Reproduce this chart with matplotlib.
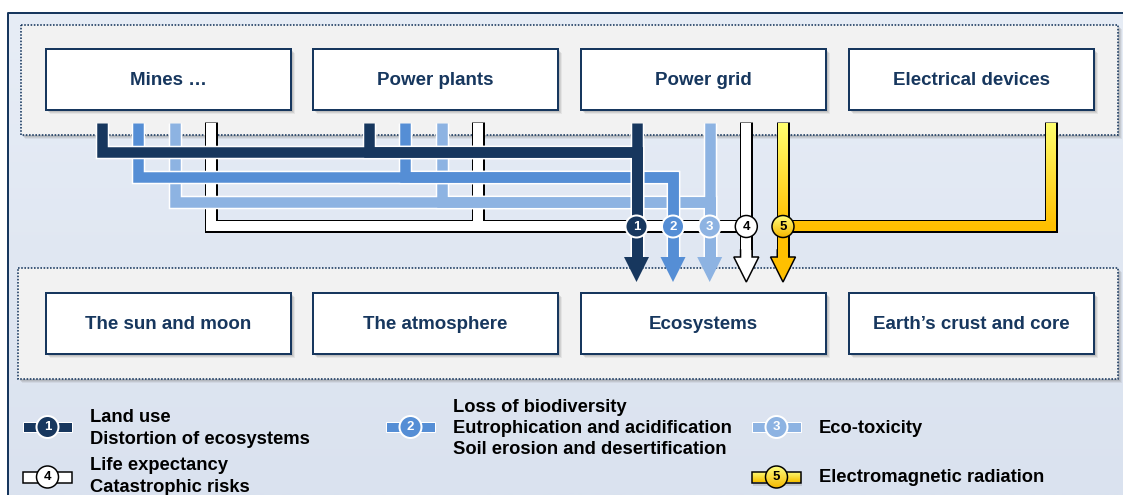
import numpy as np
import matplotlib.pyplot as plt
from matplotlib.patches import Rectangle, Circle, Polygon
from matplotlib.colors import LinearSegmentedColormap

plt.rcParams['font.family'] = ['Liberation Sans', 'DejaVu Sans']

PX = 0.72  # one pixel in points (dpi 100)

# ---- content ----
sources = ['Mines …', 'Power plants', 'Power grid', 'Electrical devices']
sinks = ['The sun and moon', 'The atmosphere', 'Ecosystems', 'Earth’s crust and core']
impact_ids = ['1', '2', '3', '4', '5']
impact_labels = [
    ['Land use', 'Distortion of ecosystems'],
    ['Loss of biodiversity', 'Eutrophication and acidification', 'Soil erosion and desertification'],
    ['Eco-toxicity'],
    ['Life expectancy', 'Catastrophic risks'],
    ['Electromagnetic radiation'],
]
impact_colors = ['#17375e', '#558ed5', '#8db3e2', '#ffffff', '#ffc000']
impact_sources = [[0, 1, 2], [0, 1], [0, 1, 2], [0, 1, 2], [2, 3]]

# ---- layout (pixels, y down) ----
W, H = 1123, 495
navy = '#17375e'
box_x = [46, 313, 581, 849]
box_w = 245
top_box = (49, 110)
bot_box = (293, 354)
stub_top = 123
lane_off = [55.5, 92, 128.7, 165.3, 202]
level_y = [152, 177, 201.5, 226, 226]
drop_box = 2
head_y0, head_tip, head_hw = 257, 282, 12.5
circle_y, circle_r = 226.5, 11
yel_top, yel_bot = '#ffff70', '#ffc000'

# legend grid: (icon x, row y, text shift)
leg_pos = [(23, 427, 1.5), (386, 427, 1.5), (752, 427, 1.5), (23, 477, -0.5), (752, 477, 0)]
leg_line = 21.5

fig = plt.figure(figsize=(W / 100, H / 100), dpi=100)
ax = fig.add_axes([0, 0, 1, 1])
ax.axis('off')


def gradient_fill(patch, c_top, c_bot, y_top, y_bot, ext, z):
    patch.set_facecolor('none')
    patch.set_edgecolor('none')
    ax.add_patch(patch)
    x0, x1, ya, yb = ext
    ys = np.linspace(ya, yb, 300)
    t = np.clip((ys - y_top) / (y_bot - y_top), 0, 1).reshape(-1, 1)
    cmap = LinearSegmentedColormap.from_list('g', [c_top, c_bot])
    im = ax.imshow(t, cmap=cmap, vmin=0, vmax=1, extent=(x0, x1, yb, ya),
                   origin='upper', aspect='auto', interpolation='bilinear', zorder=z)
    im.set_clip_path(patch)


def line(pts, color, w, z):
    xs, ys = zip(*pts)
    ax.plot(xs, ys, color=color, lw=w * PX, solid_capstyle='butt',
            solid_joinstyle='miter', zorder=z)


def shadow(x, y, w, h, z):
    for d, a in [(4, 0.12), (3, 0.18), (2, 0.22)]:
        ax.add_patch(Rectangle((x + d, y + d), w, h, fc='#7f7f7f', ec='none', alpha=a, zorder=z))


# outer frame
frame = Rectangle((8, 13), 1300, 700)
gradient_fill(frame, '#e7edf6', '#dae2ef', 13, 495, (8, 1123, 13, 495), 0)
ax.plot([8, 8, 1123], [495, 13, 13], color=navy, lw=2 * PX, zorder=0.5)

# dotted panels
for (y0, y1, x0) in [(25, 135, 21), (268, 379, 18)]:
    shadow(x0, y0, 1118 - x0, y1 - y0, 0.6)
    ax.add_patch(Rectangle((x0, y0), 1118 - x0, y1 - y0, fc='#f2f2f2', ec=navy,
                           lw=1.6 * PX, ls=(0, (1, 1)), zorder=1))

# boxes
for labels, (y0, y1) in [(sources, top_box), (sinks, bot_box)]:
    for bx, lab in zip(box_x, labels):
        shadow(bx, y0, box_w, y1 - y0, 1.5)
        ax.add_patch(Rectangle((bx, y0), box_w, y1 - y0, fc='white', ec=navy,
                               lw=2 * PX, zorder=2))
        ax.text(bx + box_w / 2, (y0 + y1) / 2 + 1, lab, ha='center', va='center',
                fontsize=13.5, fontweight='bold', color=navy, zorder=2.5)


def lane_paths(k):
    dx = box_x[drop_box] + lane_off[k]
    out = []
    for s in impact_sources[k]:
        sx = box_x[s] + lane_off[k]
        pts = [(sx, stub_top), (sx, level_y[k]), (dx, level_y[k]), (dx, head_y0)]
        clean = [pts[0]]
        for p in pts[1:]:
            if p != clean[-1]:
                clean.append(p)
        out.append(clean)
    return dx, out


def head_outline(dx, z, face):
    pts = [(dx - 5.75, 250), (dx - 5.75, head_y0), (dx - head_hw, head_y0), (dx, head_tip),
           (dx + head_hw, head_y0), (dx + 5.75, head_y0), (dx + 5.75, 250)]
    if face is not None:
        ax.add_patch(Polygon(pts, closed=True, fc=face, ec='none', zorder=z))
    xs, ys = zip(*pts)
    ax.plot(xs, ys, color='black', lw=1.5 * PX, solid_joinstyle='miter', zorder=z)


drops = []
for k in range(5):
    drops.append(lane_paths(k)[0])

# impact 4: white lane with black outline
dx, paths = lane_paths(3)
for p in paths:
    line([(p[0][0], stub_top - 1.5)] + p[1:], 'black', 13, 3)
for p in paths:
    line(p, 'white', 10, 3)
head_outline(dx, 3, 'white')

# impact 5: yellow gradient lane
dx, paths = lane_paths(4)
for p in paths:
    line([(p[0][0], stub_top - 1.5)] + p[1:], 'black', 13, 3.5)
L = dx
R = box_x[3] + lane_off[4]
b = level_y[4]
hw = 5
inner = [(L - hw, stub_top), (L + hw, stub_top), (L + hw, b - hw), (R - hw, b - hw),
         (R - hw, stub_top), (R + hw, stub_top), (R + hw, b + hw), (L + hw, b + hw),
         (L + hw, head_y0), (L + head_hw, head_y0), (L, head_tip), (L - head_hw, head_y0),
         (L - hw, head_y0)]
gradient_fill(Polygon(inner, closed=True), yel_top, yel_bot, stub_top, b,
              (L - 15, R + 10, stub_top - 2, head_tip + 2), 3.6)
head_outline(L, 3.7, None)

# impacts 3, 2, 1: coloured lanes with white halo
for k, z in [(2, 4), (1, 5), (0, 6)]:
    dx, paths = lane_paths(k)
    for p in paths:
        line(p, 'white', 13.5, z)
    for p in paths:
        line(p, impact_colors[k], 10.5, z)
    ax.add_patch(Polygon([(dx - head_hw, head_y0), (dx + head_hw, head_y0), (dx, head_tip)],
                         closed=True, fc=impact_colors[k], ec='none', zorder=z))


def badge(cx, cy, k, z):
    if k == 4:
        c = Circle((cx, cy), circle_r)
        gradient_fill(c, '#ffff80', '#f5b800', cy - circle_r, cy + circle_r,
                      (cx - 12, cx + 12, cy - 12, cy + 12), z)
        ax.add_patch(Circle((cx, cy), circle_r, fc='none', ec='black', lw=1.5 * PX, zorder=z))
        tc = 'black'
    elif k == 3:
        ax.add_patch(Circle((cx, cy), circle_r, fc='white', ec='black', lw=1.5 * PX, zorder=z))
        tc = 'black'
    else:
        ax.add_patch(Circle((cx, cy), circle_r, fc=impact_colors[k], ec='white',
                            lw=2 * PX, zorder=z))
        tc = 'white'
    ax.text(cx, cy + 0.5, impact_ids[k], ha='center', va='center', fontsize=9.5,
            fontweight='bold', color=tc, zorder=z + 0.1)


for k in range(5):
    badge(drops[k], circle_y, k, 7)

# legend
for k, (ix, iy, shift) in enumerate(leg_pos):
    if k == 4:
        ax.add_patch(Rectangle((ix + 1, iy - 3), 49, 12, fc='#7f7f7f', ec='none', alpha=0.25, zorder=7.5))
        r = Rectangle((ix, iy - 5.5), 49, 11)
        gradient_fill(r, '#ffff80', '#f5c000', iy - 5.5, iy + 5.5, (ix, ix + 49, iy - 6, iy + 6), 8)
        ax.add_patch(Rectangle((ix, iy - 5.5), 49, 11, fc='none', ec='black', lw=1.5 * PX, zorder=8))
    elif k == 3:
        ax.add_patch(Rectangle((ix, iy - 5.5), 49, 11, fc='white', ec='black', lw=1.5 * PX, zorder=8))
    else:
        ax.add_patch(Rectangle((ix, iy - 5.25), 49, 10.5, fc=impact_colors[k], ec='white',
                               lw=1 * PX, zorder=8))
    badge(ix + 24.5, iy, k, 9)
    lines = impact_labels[k]
    n = len(lines)
    for j, txt in enumerate(lines):
        ty = iy + (j - (n - 1) / 2) * leg_line + shift
        ax.text(ix + 67, ty, txt, ha='left', va='center', fontsize=13.2,
                fontweight='bold', color='black', zorder=9)

ax.set_xlim(0, W)
ax.set_ylim(H, 0)
fig.savefig('out.png', dpi=100)
